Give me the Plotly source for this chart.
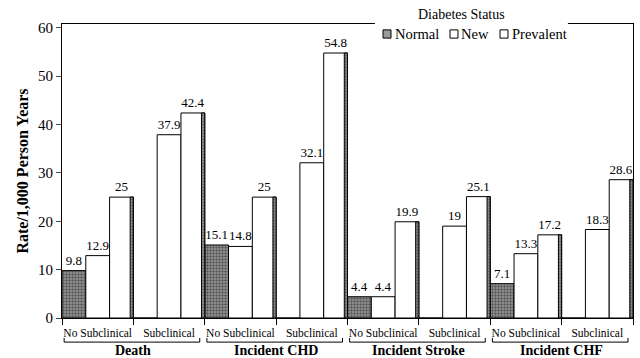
import plotly.graph_objects as go

groups = ["Death", "Incident CHD", "Incident Stroke", "Incident CHF"]
subcats = ["No Subclinical", "Subclinical"]
series_names = ["Normal", "New", "Prevalent"]
normal = [9.8, 0, 15.1, 0, 4.4, 0, 7.1, 0]
new = [12.9, 37.9, 14.8, 32.1, 4.4, 19.0, 13.3, 18.3]
prevalent = [25, 42.4, 25, 54.8, 19.9, 25.1, 17.2, 28.6]
y_ticks = [0, 10, 20, 30, 40, 50, 60]

FONT = "Times New Roman, Liberation Serif, serif"
xs = list(range(len(normal)))
ticktext = [subcats[i % 2] for i in xs]


def lab(vals):
    return ["" if v == 0 else f"{v:g}" for v in vals]


w = 1 / 3
GRAY = "#9a9a9a"
stip = dict(shape=".", fgcolor="#111111", bgcolor=GRAY, size=3, solidity=0.5)
tf = dict(family=FONT, size=13, color="black")

fig = go.Figure()
fig.add_trace(go.Bar(x=xs, y=normal, name=series_names[0], width=w, offset=-0.5,
                     marker=dict(color=GRAY, pattern=stip, line=dict(color="black", width=1)),
                     text=lab(normal), textposition="outside", cliponaxis=False, textfont=tf))
fig.add_trace(go.Bar(x=xs, y=new, name=series_names[1], width=w, offset=-0.5 + w,
                     marker=dict(color="white", line=dict(color="black", width=1)),
                     text=lab(new), textposition="outside", cliponaxis=False, textfont=tf))
fig.add_trace(go.Bar(x=xs, y=prevalent, name=series_names[2], width=w, offset=-0.5 + 2 * w,
                     marker=dict(color="white", line=dict(color="black", width=1)),
                     text=lab(prevalent), textposition="outside", cliponaxis=False, textfont=tf))
side_w = 0.045
fig.add_trace(go.Bar(x=xs, y=prevalent, width=side_w, offset=0.5 - side_w, showlegend=False,
                     hoverinfo="skip",
                     marker=dict(color=GRAY, pattern=stip, line=dict(color="black", width=1))))

# group brackets and labels
for g, name in enumerate(groups):
    x0, x1 = 2 * g - 0.47, 2 * g + 1.43
    fig.add_shape(type="path", xref="x", yref="paper",
                  path=f"M {x0},-0.068 L {x0},-0.082 L {x1},-0.082 L {x1},-0.068",
                  line=dict(color="black", width=1))
    fig.add_annotation(x=2 * g + 0.5, xref="x", y=-0.111, yref="paper", yanchor="middle",
                       text=f"<b>{name}</b>", showarrow=False,
                       font=dict(family=FONT, size=14, color="black"))

# legend drawn as a box straddling the top frame line
fig.add_shape(type="rect", xref="paper", yref="paper", x0=0.548, x1=0.886, y0=0.985, y1=1.08,
              fillcolor="white", line=dict(width=0), layer="above")
fig.add_annotation(x=0.699, xref="paper", y=1.031, yref="paper", xanchor="center",
                   yanchor="middle", text="Diabetes Status",
                   showarrow=False, font=dict(family=FONT, size=14, color="black"))
leg_sq = [(0.5622, 0.5762), (0.6795, 0.6935), (0.7671, 0.7811)]
leg_tx = [0.5797, 0.6953, 0.7846]
leg_fill = [GRAY, "white", "white"]
for (a, b), t, nm, fc in zip(leg_sq, leg_tx, series_names, leg_fill):
    fig.add_shape(type="rect", xref="paper", yref="paper", x0=a, x1=b, y0=0.952, y1=0.980,
                  fillcolor=fc, line=dict(color="black", width=1), layer="above")
    fig.add_annotation(x=t, xref="paper", y=0.966, yref="paper", xanchor="left",
                       yanchor="middle", text=nm, showarrow=False,
                       font=dict(family=FONT, size=14.5, color="black"))

fig.update_layout(
    width=640, height=358,
    margin=dict(l=62, r=7, t=24, b=40, autoexpand=False),
    barmode="overlay", showlegend=False,
    plot_bgcolor="white", paper_bgcolor="white",
    font=dict(family=FONT, color="black"),
    xaxis=dict(range=[-0.5, 7.5], tickvals=xs, ticktext=ticktext, ticks="",
               ticklabelstandoff=4,
               tickfont=dict(family=FONT, size=11.5), showgrid=False, zeroline=False,
               showline=True, linecolor="black", linewidth=1, mirror=True,
               minor=dict(tickvals=[i - 0.5 for i in range(9)], ticks="outside",
                          ticklen=6, tickcolor="black")),
    yaxis=dict(range=[0, 60.8], tickvals=y_ticks, ticks="outside", ticklen=5,
               tickfont=dict(family=FONT, size=15), showgrid=False, zeroline=False,
               showline=True, linecolor="black", linewidth=1, mirror=True,
               title=dict(text="<b>Rate/1,000 Person Years</b>",
                          font=dict(family=FONT, size=16), standoff=5)),
)

fig.write_html("out.html", config={"displayModeBar": False},
               post_script="document.body.style.margin='0';")
